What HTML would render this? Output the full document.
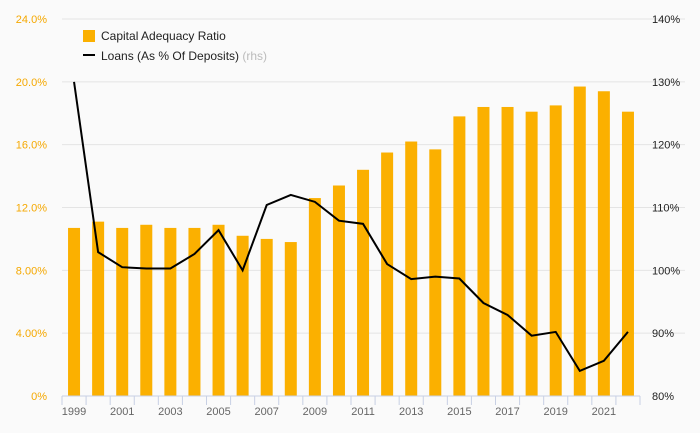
<!DOCTYPE html>
<html><head><meta charset="utf-8"><style>
body{margin:0;background:#fafafa;}
svg{display:block;font-family:"Liberation Sans",sans-serif;}
</style></head><body>
<svg width="700" height="433" id="c"></svg>
<script>
const years=[1999,2000,2001,2002,2003,2004,2005,2006,2007,2008,2009,2010,2011,2012,2013,2014,2015,2016,2017,2018,2019,2020,2021,2022];
const car=[10.7,11.1,10.7,10.9,10.7,10.7,10.9,10.2,10.0,9.8,12.6,13.4,14.4,15.5,16.2,15.7,17.8,18.4,18.4,18.1,18.5,19.7,19.4,18.1];
const loans=[130,102.9,100.5,100.3,100.3,102.6,106.4,100,110.4,112,110.9,107.9,107.4,101,98.6,99,98.7,94.8,92.9,89.6,90.2,84,85.6,90.2];
const leftTicks=[0,4,8,12,16,20,24];
const leftLabels=["0%","4.00%","8.00%","12.0%","16.0%","20.0%","24.0%"];
const rightTicks=[80,90,100,110,120,130,140];
const rightLabels=["80%","90%","100%","110%","120%","130%","140%"];
const NS="http://www.w3.org/2000/svg";
const svg=document.getElementById('c');
const x0=62,x1=640,y0=396,y1=19;
const slot=(x1-x0)/years.length;
const xc=i=>x0+slot*(i+0.5);
const yl=v=>y0-(v/24)*(y0-y1);
const yr=v=>y0-((v-80)/60)*(y0-y1);
function el(t,a,txt){const e=document.createElementNS(NS,t);for(const k in a)e.setAttribute(k,a[k]);if(txt!=null)e.textContent=txt;svg.appendChild(e);return e;}
leftTicks.forEach((v,i)=>{
 if(v>0){const g=el('line',{x1:x0,x2:x1+45,y1:yl(v),y2:yl(v),stroke:'#e4e4e4'});
 
 }
 const t=el('text',{x:47,y:yl(v)+4,'text-anchor':'end','font-size':11,fill:'#f5a800'},leftLabels[i]);
 
 
});
rightTicks.forEach((v,i)=>{
 const t=el('text',{x:652,y:yr(v)+4,'font-size':11,fill:'#222'},rightLabels[i]);
 
 
});
car.forEach((v,i)=>{
 const b=el('rect',{x:xc(i)-6,y:yl(v),width:12,height:y0-yl(v),fill:'#fbb000'});
 
 
});
const ax=el('line',{x1:x0,x2:x1,y1:y0,y2:y0,stroke:'#c8d0e4'});


for(let i=0;i<=years.length;i++){
 const tk=el('line',{x1:x0+slot*i,x2:x0+slot*i,y1:y0,y2:y0+9,stroke:'#c8d0e4'});
 
 
}
years.forEach((y,i)=>{ if(i%2==0){
 const t=el('text',{x:xc(i),y:415,'text-anchor':'middle','font-size':11,fill:'#666'},String(y));
 
 }
});
const pts=loans.map((v,i)=>xc(i)+','+yr(v)).join(' ');
const ln=el('polyline',{points:pts,fill:'none',stroke:'#000','stroke-width':2});


const ls=el('rect',{x:83,y:30,width:12,height:12,fill:'#fbb000'});


const lt=el('text',{x:101,y:40,'font-size':12,fill:'#222'},'Capital Adequacy Ratio');


const ll=el('line',{x1:83,x2:95,y1:55,y2:55,stroke:'#000','stroke-width':2});


const lt2=el('text',{x:101,y:60,'font-size':12,fill:'#222'},'Loans (As % Of Deposits) ');


const ts=document.createElementNS(NS,'tspan');ts.setAttribute('fill','#bbb');ts.textContent='(rhs)';lt2.appendChild(ts);
</script>
</body></html>
